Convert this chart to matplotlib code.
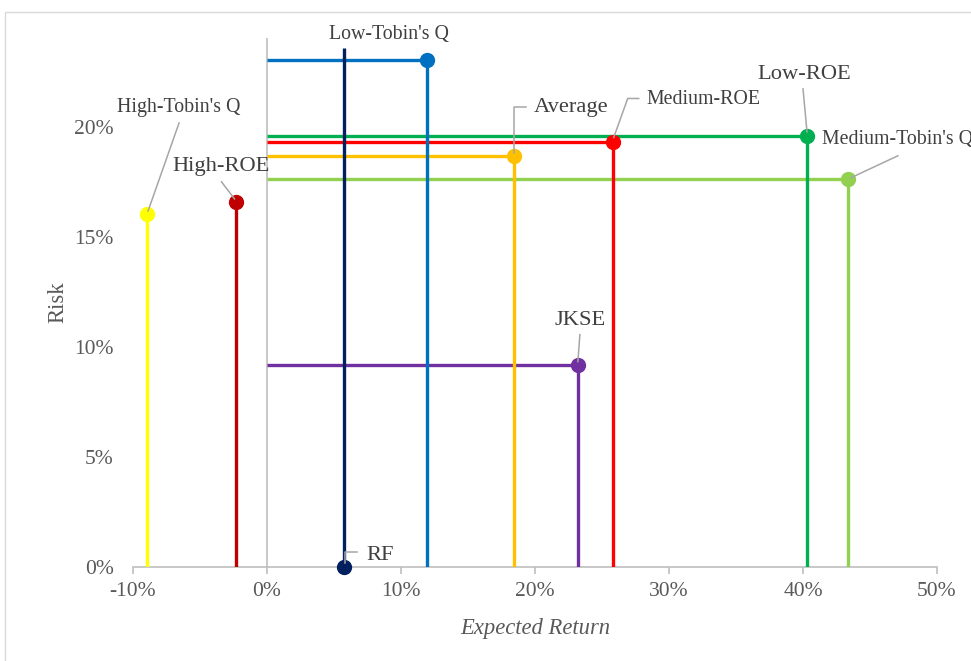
import matplotlib.pyplot as plt
from matplotlib.ticker import PercentFormatter
from matplotlib.transforms import IdentityTransform
from matplotlib.patches import Rectangle

plt.rcParams['font.family'] = ['Liberation Serif', 'DejaVu Serif']
plt.rcParams['axes.unicode_minus'] = False

# portfolios: expected return (x) and risk (y)
names = ["Low-Tobin's Q", "High-Tobin's Q", "High-ROE", "Average", "Medium-ROE",
         "Low-ROE", "Medium-Tobin's Q", "JKSE", "RF"]
ret = [0.1195, -0.0895, -0.0235, 0.184, 0.258, 0.403, 0.4335, 0.232, 0.0575]
risk = [0.2305, 0.1605, 0.1660, 0.1870, 0.1930, 0.1960, 0.1765, 0.0920, 0.0]
colors = ["#0070C0", "#FFFF00", "#C00000", "#FFC000", "#FF0000",
          "#00B050", "#92D050", "#7030A0", "#002060"]
rf_top = 0.236  # vertical line drawn up from the risk-free point

# label placement: text offset (px from point), font size, alignment, leader polyline (px)
label_cfg = {
    "Low-Tobin's Q": ((-38, -25), 14.3, "center", None),
    "High-Tobin's Q": ((32, -106), 14.3, "center", [(1, -3), (32, -91)]),
    "High-ROE": ((-14, -35), 16.2, "center", [(-1, -3), (-14, -20)]),
    "Average": ((58, -48), 16.2, "center", [(0, -3), (0, -49), (12, -49)]),
    "Medium-ROE": ((91, -43), 14.3, "center", [(1, -5), (15, -44), (26, -44)]),
    "Low-ROE": ((-3, -61), 16.2, "center", [(0, -4), (-4, -47)]),
    "Medium-Tobin's Q": ((-26, -39), 14.3, "left", [(3, -1), (50, -23)]),
    "JKSE": ((2, -44), 16.2, "center", [(0, -3), (2, -30)]),
    "RF": ((36, -11), 16.2, "center", [(1, -4), (1, -15), (13, -15)]),
}

fig = plt.figure(figsize=(9.71, 6.61), dpi=100)
# chart area border
fig.patches.append(Rectangle((5 / 971, -0.01), 1.0, (661 - 12) / 661 + 0.01,
                             transform=fig.transFigure, fill=False,
                             edgecolor="#D9D9D9", linewidth=1))
ax = fig.add_axes([133 / 971, 94 / 661, 804 / 971, 529 / 661])
ax.set_xlim(-0.10, 0.50)
ax.set_ylim(0, 0.2405)

for s in ["top", "right", "left"]:
    ax.spines[s].set_visible(False)
ax.spines["bottom"].set_color("#BFBFBF")
ax.spines["bottom"].set_linewidth(1.2)
ax.axvline(0, color="#BFBFBF", linewidth=1.2, zorder=1)

ax.set_xticks([-0.1, 0, 0.1, 0.2, 0.3, 0.4, 0.5])
ax.set_yticks([0, 0.05, 0.10, 0.15, 0.20])
ax.xaxis.set_major_formatter(PercentFormatter(1.0, decimals=0))
ax.yaxis.set_major_formatter(PercentFormatter(1.0, decimals=0))
ax.tick_params(axis="x", length=5, width=1.2, color="#BFBFBF", labelsize=15.5,
               labelcolor="#595959", pad=6)
ax.tick_params(axis="y", length=0, labelsize=15.5, labelcolor="#595959", pad=14)

ax.set_xlabel("Expected Return", fontsize=16.3, style="italic", color="#595959", labelpad=12)
ax.set_ylabel("Risk", fontsize=16.3, color="#595959", labelpad=4)

# horizontal lines to the vertical axis first, verticals on top
for x, y, c in zip(ret, risk, colors):
    if x > 0 and y > 0:
        ax.plot([0, x], [y, y], color=c, linewidth=2.4, zorder=2, solid_capstyle="butt")
for n, x, y, c in zip(names, ret, risk, colors):
    if n == "RF":
        ax.plot([x, x], [y, rf_top], color=c, linewidth=2.4, zorder=3, solid_capstyle="butt")
    else:
        ax.plot([x, x], [0, y], color=c, linewidth=2.4, zorder=3, solid_capstyle="butt")
for x, y, c in zip(ret, risk, colors):
    ax.plot(x, y, "o", color=c, markersize=10, zorder=5, clip_on=False)

fig.canvas.draw()
for n, x, y in zip(names, ret, risk):
    (dx, dy), fs, ha, leader = label_cfg[n]
    px, py = ax.transData.transform((x, y))
    ax.text(px + dx, py - dy, n, transform=IdentityTransform(), fontsize=fs,
            ha=ha, va="center", color="#404040", zorder=6)
    if leader:
        ax.plot([px + a for a, b in leader], [py - b for a, b in leader],
                transform=IdentityTransform(), color="#A6A6A6", linewidth=1.1,
                zorder=6, clip_on=False)

fig.savefig("out.png", dpi=100)
